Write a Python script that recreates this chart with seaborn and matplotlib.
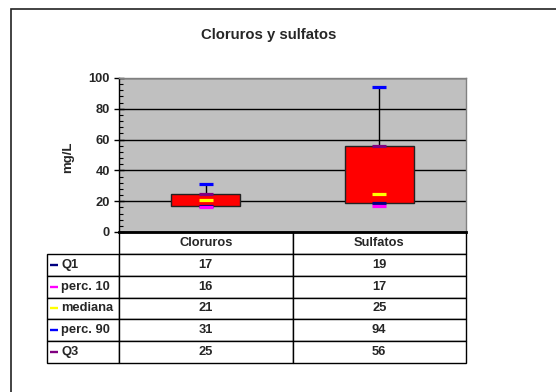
import numpy as np
import pandas as pd
import matplotlib
matplotlib.use("Agg")
import matplotlib.pyplot as plt
import seaborn as sns
from matplotlib.lines import Line2D
from matplotlib.patches import Rectangle
from matplotlib.ticker import MultipleLocator

# Summary statistics per parameter (mg/L)
categories = ["Cloruros", "Sulfatos"]
stat_names = ["Q1", "perc. 10", "mediana", "perc. 90", "Q3"]
q1 = [17, 19]
perc10 = [16, 17]
mediana = [21, 25]
perc90 = [31, 94]
q3 = [25, 56]
stat_colors = ["#000080", "#FF00FF", "#FFFF00", "#0000FF", "#800080"]

stat_values = [q1, perc10, mediana, perc90, q3]

sns.set_style("white")
plt.rcParams["font.family"] = ["Liberation Sans", "DejaVu Sans"]
plt.rcParams["font.weight"] = "bold"

FS = 9.3
W, H = 556, 392
fig = plt.figure(figsize=(W / 100, H / 100), dpi=100)
fig.patch.set_facecolor("white")

# outer chart frame
fig.add_artist(Rectangle((11 / W, -0.05), 1.0, (1 - 9 / H) + 0.05, fill=False,
                         lw=1.2, ec="#222222", transform=fig.transFigure))

ax = fig.add_axes([119 / W, 1 - 232 / H, 347 / W, 154 / H])
ax.set_facecolor("#C0C0C0")
ax.set_axisbelow(True)

x = np.arange(len(categories))

# high-low line from perc. 10 to perc. 90
ax.vlines(x, perc10, perc90, color="black", lw=1, zorder=2)
# box spanning Q1..Q3
ax.bar(x, np.subtract(q3, q1), bottom=q1, width=0.4, color="#FF0000",
       edgecolor="#222222", linewidth=1, zorder=3)

long = pd.DataFrame({
    "x": np.tile(x, len(stat_names)),
    "value": np.concatenate(stat_values),
    "stat": np.repeat(stat_names, len(categories)),
})
sns.scatterplot(data=long, x="x", y="value", hue="stat",
                palette=dict(zip(stat_names, stat_colors)), marker="_",
                s=95, linewidth=2.3, legend=False, zorder=4, ax=ax)

ax.set_xlim(-0.5, 1.5)
ax.set_ylim(0, 100)
ax.set_xlabel("")
ax.set_ylabel("")
ax.set_xticks([])
ax.yaxis.set_major_locator(MultipleLocator(20))
ax.yaxis.set_minor_locator(MultipleLocator(4))
ax.yaxis.grid(True, which="major", color="black", lw=1)
ax.tick_params(axis="y", which="major", direction="inout", length=7, width=1,
               labelsize=FS, pad=3, left=True, color="black")
ax.tick_params(axis="y", which="minor", direction="in", length=3, width=0.8,
               left=True, color="black")
for lab in ax.get_yticklabels():
    lab.set_fontweight("bold")

ax.spines["left"].set_color("black")
ax.spines["left"].set_linewidth(1)
ax.spines["bottom"].set_color("black")
ax.spines["bottom"].set_linewidth(2)
for s in ("top", "right"):
    ax.spines[s].set_color("#808080")
    ax.spines[s].set_linewidth(1)

fig.text(269 / W, 1 - 35 / H, "Cloruros y sulfatos", ha="center", va="center",
         fontsize=10.7, fontweight="bold")
fig.text(68 / W, 1 - 157 / H, "mg/L", ha="center", va="center", rotation=90,
         fontsize=FS + 0.2, fontweight="bold")

# data table beneath the plot
cell_text = [[""] + categories]
for vals in stat_values:
    cell_text.append([""] + [f"{v:g}" for v in vals])

tb_left = (47 - 119) / 347
tb_width = (466 - 47) / 347
tb_height = (363 - 232) / 154
col_w = np.array([72, 173.5, 173.5]) / 419
table = ax.table(cellText=cell_text, colWidths=col_w, cellLoc="center",
                 bbox=[tb_left, -tb_height, tb_width, tb_height])
table.auto_set_font_size(False)
table.set_fontsize(FS)
for (r, c), cell in table.get_celld().items():
    cell.set_edgecolor("black")
    cell.set_linewidth(1)
    cell.set_facecolor("white")
    cell.get_text().set_fontweight("bold")
    if r == 0 and c == 0:
        cell.visible_edges = ""

n_rows = len(stat_names) + 1
for i, (name, color) in enumerate(zip(stat_names, stat_colors)):
    yc = -tb_height + tb_height * (1 - (i + 1.5) / n_rows)
    ax.add_line(Line2D([(50 - 119) / 347, (58 - 119) / 347], [yc, yc],
                       color=color, lw=1.7, transform=ax.transAxes,
                       clip_on=False, solid_capstyle="butt"))
    ax.text((61 - 119) / 347, yc, name, transform=ax.transAxes, ha="left",
            va="center", fontsize=FS, fontweight="bold", clip_on=False)

fig.savefig("out.png", dpi=100, facecolor="white")
